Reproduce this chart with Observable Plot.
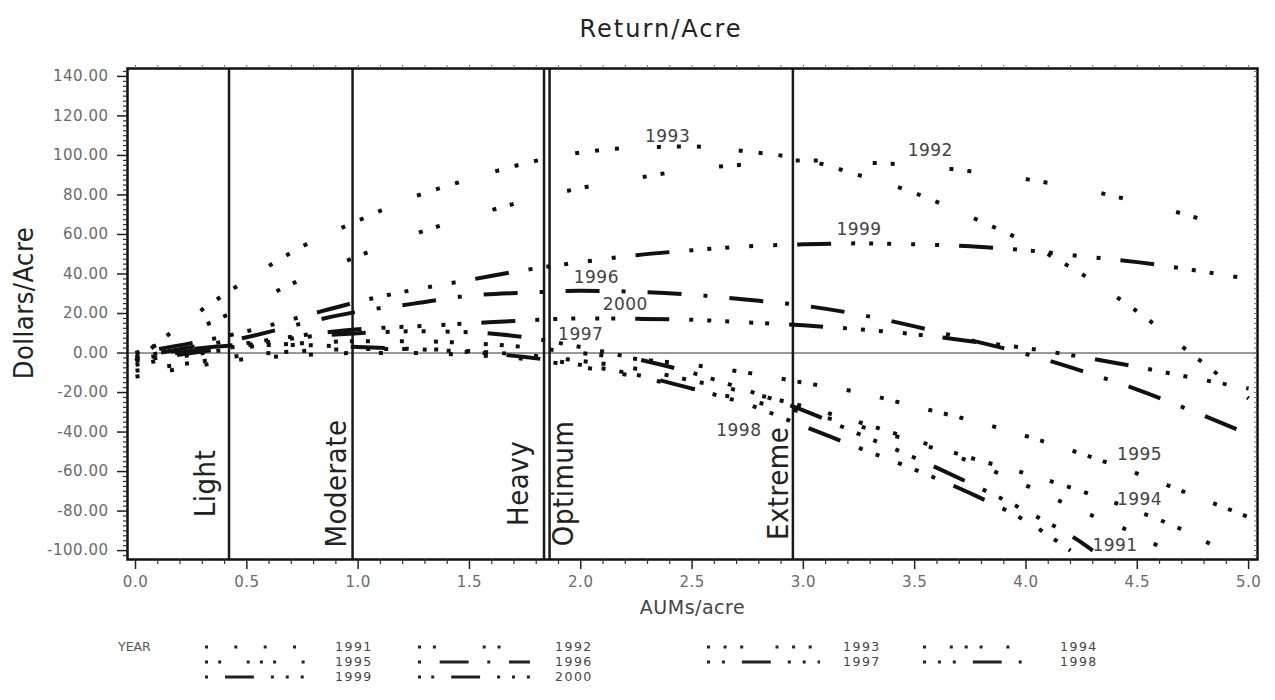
<!DOCTYPE html>
<html><head><meta charset="utf-8">
<script src="https://cdn.jsdelivr.net/npm/d3@7"></script>
<script src="https://cdn.jsdelivr.net/npm/@observablehq/plot@0.6"></script>
<style>
body{margin:0;background:#fff;width:1275px;height:700px;overflow:hidden;font-family:"DejaVu Sans",sans-serif;}
#title{position:relative;height:50px;}
#title span{position:absolute;left:661px;top:29px;transform:translate(-50%,-50%);font-size:24px;letter-spacing:2px;color:#222;white-space:nowrap;}
#chart svg{display:block;}
#legend svg{display:block;}
</style></head><body>
<div id="title"><span>Return/Acre</span></div>
<div id="chart"></div>
<div id="legend"></div>
<script>
// ---- data ----
const years = ["1991","1992","1993","1994","1995","1996","1997","1998","1999","2000"];
const r1991 = [[0,-12],[0.25,-7],[0.5,-3],[0.75,-1],[1,0],[1.25,0],[1.5,-1],[1.75,-3],[2,-7],[2.25,-12],[2.5,-18],[2.75,-24],[3,-30],[3.25,-37],[3.5,-45],[3.75,-55],[4,-67],[4.25,-80],[4.5,-92],[4.6,-98]];
const r1992 = [[0,0],[0.25,11],[0.5,24],[0.75,37.5],[1,49],[1.25,60],[1.5,69],[1.75,77],[2,83.5],[2.25,88.5],[2.5,93],[2.75,95.5],[3,97.5],[3.25,96.5],[3.5,95],[3.75,92],[4,88],[4.25,83],[4.5,76.5],[4.75,69],[5,60]];
const r1993 = [[0,-4],[0.25,18],[0.5,37],[0.75,54],[1,67],[1.25,79],[1.5,88],[1.75,96],[2,101.5],[2.25,104],[2.5,104.5],[2.75,102],[3,98],[3.25,90],[3.5,81],[3.75,69],[4,56],[4.25,40],[4.5,21],[4.75,-1],[5,-23]];
const r1994 = [[0,-9],[0.25,-5],[0.5,-1],[0.75,1],[1,2],[1.25,2],[1.5,1],[1.75,-1],[2,-4],[2.25,-8],[2.5,-14],[2.75,-20],[3,-27],[3.25,-35],[3.5,-44],[3.75,-53],[4,-61],[4.25,-70],[4.5,-80],[4.75,-92],[4.85,-98]];
const r1995 = [[0,-6],[0.25,-1],[0.5,3],[0.75,5],[1,6],[1.25,6],[1.5,5],[1.75,3],[2,0],[2.25,-3],[2.5,-6],[2.75,-10],[3,-15],[3.25,-20],[3.5,-27],[3.75,-34],[4,-42],[4.25,-51],[4.5,-61],[4.75,-72],[5,-83]];
const r1996 = [[0,-2],[0.25,3],[0.5,8],[0.75,15],[1,21],[1.25,25],[1.5,29],[1.75,30.5],[2,31.5],[2.25,31],[2.5,29.5],[2.75,27],[3,24],[3.25,19.5],[3.5,13.5],[3.75,6.5],[4,-0.5],[4.25,-9],[4.5,-18.5],[4.75,-29.5],[5,-41]];
const r1997 = [[0,-4],[0.25,0],[0.5,4],[0.75,8],[1,10],[1.25,11],[1.5,10.5],[1.75,8],[2,3],[2.25,-3],[2.5,-10],[2.75,-19],[3,-29],[3.25,-41],[3.5,-53],[3.75,-66],[4,-80],[4.25,-96],[4.3,-100]];
const r1998 = [[0,-2],[0.25,2],[0.5,4],[0.75,4],[1,3],[1.25,2],[1.5,0.5],[1.75,-2],[2,-6],[2.25,-11],[2.5,-18],[2.75,-26],[3,-37],[3.25,-48],[3.5,-59],[3.75,-71],[4,-85],[4.2,-100]];
const r1999 = [[0,0],[0.25,5],[0.5,11],[0.75,18.5],[1,26],[1.25,32],[1.5,37],[1.75,42],[2,46],[2.25,49.5],[2.5,52],[2.75,54],[3,55],[3.25,55.5],[3.5,55],[3.75,54],[4,52],[4.25,49],[4.5,46],[4.75,42],[5,37.5]];
const r2000 = [[0,-3],[0.25,1],[0.5,5],[0.75,9],[1,12],[1.25,13.5],[1.5,15],[1.75,16.5],[2,17.5],[2.25,17.3],[2.5,16.8],[2.75,15.5],[3,14],[3.25,12],[3.5,9.5],[3.75,6],[4,2.5],[4.25,-2],[4.5,-7],[4.75,-12.6],[5,-18]];
const seriesList = [r1991,r1992,r1993,r1994,r1995,r1996,r1997,r1998,r1999,r2000];

const labelYears = ["1993","1992","1999","1996","2000","1997","1998","1995","1994","1991"];
const labelX = [2.39,3.57,3.25,2.07,2.2,2.0,2.71,4.51,4.51,4.4];
const labelY = [109.6,102.3,62.7,38.4,24.5,9.3,-39.4,-51.3,-74,-97.3];

const grazeNames = ["Light","Moderate","Heavy","Optimum","Extreme"];
const grazeX = [0.42,0.975,1.835,1.86,2.953];
const grazeLabelY = -66;

const xTicks = [0,0.5,1,1.5,2,2.5,3,3.5,4,4.5,5];
const yTicks = [-100,-80,-60,-40,-20,0,20,40,60,80,100,120,140];

// ---- styles ----
const xMin = -0.036, xMax = 5.04, yMin = -104.5, yMax = 144;
const patterns = {
  "1991":[4,31],
  "1992":[4,14,4,55],
  "1993":[4,16,4,16,4,38],
  "1994":[4,28,4,14,4,14,4,28],
  "1995":[4,12,4,30,4,12,4,12,4,30,4,30],
  "1996":[4,22,34,22],
  "1997":[4,14,4,20,34,20,4,14,4,14,4,20],
  "1998":[4,14,4,14,4,20,34,20,4,14,4,20],
  "1999":[4,20,34,20,4,14,4,14,4,20,4,20],
  "2000":[4,12,4,20,34,20,4,14,4,14,4,20]
};
const grazeDx = [-14,-7,-16,3,-5];
const grazeAnchor = ["bottom","bottom","bottom","top","bottom"];
const narrowFont = "'Liberation Sans Narrow','DejaVu Sans Condensed','Liberation Sans',sans-serif";

const xMinor = d3.range(0, 50.5, 1).map(d => d/10).filter(d => !xTicks.includes(d));
const yMinor = d3.range(-41, 58, 1).map(d => d*2.5).filter(d => d % 20 !== 0);
const xAll = d3.range(0, 50.5, 1).map(d => d/10);
const yAll = d3.range(-41, 58, 1).map(d => d*2.5);

const marks = [
  Plot.ruleY([0], {stroke:"#333", strokeWidth:1}),
  Plot.ruleX(grazeX, {stroke:"#1a1a1a", strokeWidth:2.5}),
  ...seriesList.map((s, i) => Plot.line(s, {
    x: d => d[0], y: d => d[1], curve: "monotone-x",
    stroke: "#111", strokeWidth: 4, strokeLinecap: "butt",
    strokeDasharray: patterns[years[i]].join(",")
  })),
  Plot.text(labelYears, {x: labelX, y: labelY, text: d => d, fontSize: 17, fill: "#444", fontFamily: "DejaVu Sans"}),
  ...grazeNames.map((n, i) => Plot.text([n], {
    x: () => grazeX[i], y: () => grazeLabelY, text: d => d, rotate: -90,
    textAnchor: "middle", lineAnchor: grazeAnchor[i], dx: grazeDx[i], fontSize: 29,
    fontFamily: narrowFont, fill: "#222"
  })),
  Plot.frame({stroke:"#111", strokeWidth:2.5}),
  // axis ticks
  Plot.ruleX(xTicks, {y1: () => yMin, y2: () => yMin, insetBottom: -10, stroke:"#222", strokeWidth:1.5}),
  Plot.ruleX(xMinor, {y1: () => yMin, y2: () => yMin, insetBottom: -5, stroke:"#333", strokeWidth:1.2}),
  Plot.ruleY(yTicks, {x1: () => xMin, x2: () => xMin, insetLeft: -10, stroke:"#222", strokeWidth:1.5}),
  Plot.ruleY(yMinor, {x1: () => xMin, x2: () => xMin, insetLeft: -4, stroke:"#333", strokeWidth:1.2}),
  // faint inner ticks on top and right edges
  Plot.ruleX(xAll, {y1: () => yMax, y2: () => yMax, insetBottom: 3, stroke:"#5a7a8a", strokeWidth:1}),
  Plot.ruleY(yAll, {x1: () => xMax, x2: () => xMax, insetLeft: -3, stroke:"#5a7a8a", strokeWidth:1}),
  Plot.text(xTicks, {x: d => d, y: () => yMin, dy: 23, text: d => d.toFixed(1), fontSize: 15, fill: "#6a6a6a"}),
  Plot.text(yTicks, {x: () => xMin, y: d => d, dx: -19, textAnchor: "end", text: d => d.toFixed(2), fontSize: 15, fill: "#6a6a6a"}),
  Plot.text(["AUMs/acre"], {frameAnchor: "bottom", dy: 54, text: d => d, fontSize: 19, fill: "#444"}),
  Plot.text(["Dollars/Acre"], {frameAnchor: "left", textAnchor: "middle", dx: -103, dy: -11, rotate: -90, text: d => d, fontSize: 27,
    fontFamily: narrowFont, fill: "#222"})
];

const chart = Plot.plot({
  width: 1275, height: 575,
  marginTop: 18, marginRight: 18, marginBottom: 66, marginLeft: 127,
  x: {domain: [xMin, xMax], axis: null},
  y: {domain: [yMin, yMax], axis: null},
  style: {fontFamily: "DejaVu Sans", background: "#fff", overflow: "visible", letterSpacing: "0.5px"},
  marks
});
document.getElementById("chart").appendChild(chart);

// ---- legend ----
const legendRows = [["1991","1992","1993","1994"],["1995","1996","1997","1998"],["1999","2000"]];
const colStart = [205, 418, 707, 923];
const colEnd = [310, 530, 820, 1030];
const colLabel = [335, 555, 843, 1060];
const rowY = [22, 37, 52];
const lg = d3.select("#legend").append("svg").attr("width", 1275).attr("height", 75);
lg.append("text").attr("x", 118).attr("y", rowY[0]).attr("dy", "0.35em").text("YEAR")
  .attr("font-size", 12.5).attr("fill", "#555").attr("font-family", "DejaVu Sans");
legendRows.forEach((row, r) => row.forEach((yr, c) => {
  lg.append("line").attr("x1", colStart[c]).attr("x2", colEnd[c]).attr("y1", rowY[r]).attr("y2", rowY[r])
    .attr("stroke", "#222").attr("stroke-width", 3)
    .attr("stroke-dasharray", patterns[yr].map(v => v > 5 ? v * 0.85 : 3).join(","));
  lg.append("text").attr("x", colLabel[c]).attr("y", rowY[r]).attr("dy", "0.35em").text(yr)
    .attr("font-size", 12.5).attr("fill", "#444").attr("letter-spacing", "1.5px").attr("font-family", "DejaVu Sans");
}));
</script>
</body></html>
